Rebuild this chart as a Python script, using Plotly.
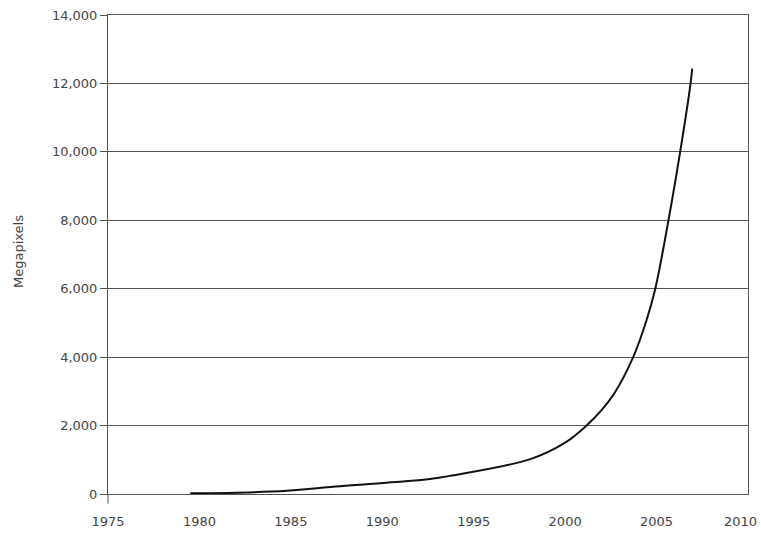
import plotly.graph_objects as go

# Data (year, megapixels)
years = [1979.5, 1983.9, 1987.7, 1992.6, 1993.7, 1998.1, 2000.0, 2001.17,
         2001.99, 2002.7, 2003.72, 2004.45, 2004.93, 2005.65, 2006.29, 2006.86, 2006.95]
megapixels = [20, 70, 230, 440, 530, 1020, 1500, 2000,
              2450, 2950, 4000, 5080, 6000, 8000, 10000, 12000, 12430]

x_ticks = [1975, 1980, 1985, 1990, 1995, 2000, 2005, 2010]
x_tick_labels = ["1975", "1980", "1985", "1990", "1995", "2000", "2005", "2010"]
y_ticks = [0, 2000, 4000, 6000, 8000, 10000, 12000, 14000]
y_tick_labels = ["0", "2,000", "4,000", "6,000", "8,000", "10,000", "12,000", "14,000"]

fig = go.Figure()
fig.add_trace(go.Scatter(
    x=years, y=megapixels, mode="lines",
    line=dict(color="#111111", width=2, shape="spline", smoothing=1.0),
    showlegend=False, hoverinfo="skip",
))

axis_color = "#555555"
label_font = dict(family="DejaVu Sans, sans-serif", size=13, color="#444444")

# last x label is drawn as an annotation so it stays inside the page edge
shown_x_labels = x_tick_labels[:-1] + [""]

fig.update_layout(
    width=761, height=536,
    margin=dict(l=108, r=13, t=15, b=42, autoexpand=False),
    paper_bgcolor="white", plot_bgcolor="white",
    font=label_font,
    xaxis=dict(
        range=[1975, 2010], tickmode="array", tickvals=x_ticks,
        ticktext=shown_x_labels,
        showgrid=False, zeroline=False, automargin=False,
        showline=True, linecolor=axis_color, linewidth=1, mirror=True,
        ticks="", ticklen=0, tickfont=label_font, ticklabelstandoff=15,
    ),
    yaxis=dict(
        range=[0, 14000], tickmode="array", tickvals=y_ticks, ticktext=y_tick_labels,
        showgrid=True, gridcolor="#555555", gridwidth=1, zeroline=False,
        automargin=False,
        showline=True, linecolor=axis_color, linewidth=1, mirror=True,
        ticks="outside", ticklen=7, tickcolor=axis_color,
        tickfont=label_font,
    ),
    shapes=[dict(type="line", xref="paper", yref="paper", x0=0, x1=0,
                 y0=0, y1=-0.02, line=dict(color=axis_color, width=1))],
    annotations=[
        dict(
            text="Megapixels", xref="paper", yref="paper",
            x=(18 - 108) / 640, y=(494 - 252) / 479, xanchor="center", yanchor="middle",
            textangle=-90, showarrow=False, font=label_font,
        ),
        dict(
            text=x_tick_labels[-1], xref="paper", yref="paper",
            x=(759 - 108) / 640, y=-(521 - 494) / 479, xanchor="right", yanchor="middle",
            showarrow=False, font=label_font,
        ),
    ],
)

fig.write_html("out.html", config={"displayModeBar": False},
               post_script="document.body.style.margin='0';")
